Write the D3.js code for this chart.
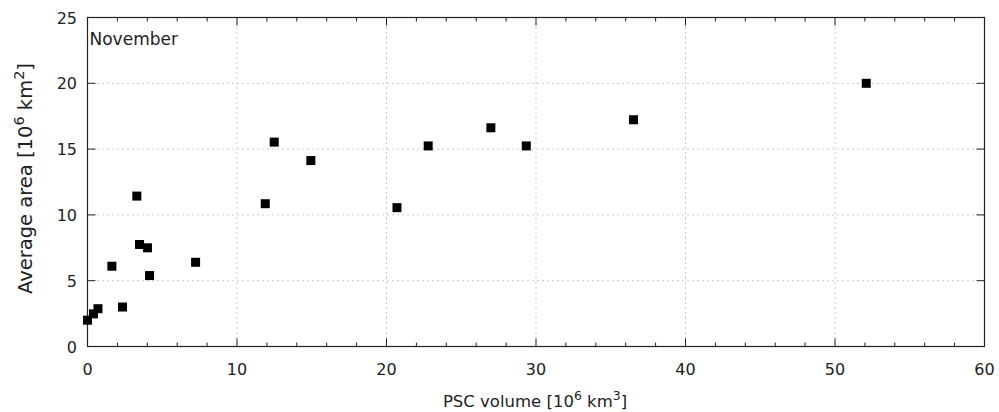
<!DOCTYPE html>
<html>
<head>
<meta charset="utf-8">
<script src="https://cdn.jsdelivr.net/npm/d3@7"></script>
<style>
  body { margin: 0; background: #fff; }
  svg { font-family: "DejaVu Sans", sans-serif; }
  .grid line { stroke: #999; stroke-dasharray: 1,4; stroke-width: 1; }
</style>
</head>
<body>
<div class="container"></div>
<script>
const pscVolume = [0.0, 0.4, 0.7, 1.63, 2.34, 3.3, 3.48, 4.01, 4.15, 7.23,
                   11.89, 12.49, 14.94, 20.7, 22.79, 26.98, 29.35, 36.52, 52.09];
const avgArea   = [2.0, 2.48, 2.87, 6.1, 3.0, 11.43, 7.75, 7.5, 5.39, 6.4,
                   10.85, 15.53, 14.13, 10.55, 15.24, 16.62, 15.24, 17.23, 20.0];
const xTicks = [0, 10, 20, 30, 40, 50, 60];
const xMinorTicks = d3.range(0, 61, 2);
const yTicks = [0, 5, 10, 15, 20, 25];
const monthLabel = "November";

const w = 999;
const h = 412;
const pLeft = 87.5, pRight = 984.5, pTop = 17.5, pBottom = 346.5;

const svg = d3.select(".container").append("svg")
  .attr("width", w)
  .attr("height", h);

const xScale = d3.scaleLinear().domain([0, 60]).range([pLeft, pRight]);
const yScale = d3.scaleLinear().domain([0, 25]).range([pBottom, pTop]);

// grid
const grid = svg.append("g").attr("class", "grid");
grid.selectAll(".gx").data(xTicks.slice(1, -1)).enter().append("line")
  .attr("x1", d => xScale(d)).attr("x2", d => xScale(d))
  .attr("y1", pTop).attr("y2", pBottom);
grid.selectAll(".gy").data(yTicks.slice(1, -1)).enter().append("line")
  .attr("x1", pLeft).attr("x2", pRight)
  .attr("y1", d => yScale(d)).attr("y2", d => yScale(d));

// ticks (inward, on all four sides)
const tickG = svg.append("g").attr("stroke", "#222").attr("stroke-width", 1);
xMinorTicks.forEach(d => {
  const major = d % 10 === 0;
  const len = major ? 8 : 4;
  tickG.append("line").attr("x1", xScale(d)).attr("x2", xScale(d))
    .attr("y1", pBottom).attr("y2", pBottom - len);
  tickG.append("line").attr("x1", xScale(d)).attr("x2", xScale(d))
    .attr("y1", pTop).attr("y2", pTop + len);
});
yTicks.forEach(d => {
  tickG.append("line").attr("x1", pLeft).attr("x2", pLeft + 8)
    .attr("y1", yScale(d)).attr("y2", yScale(d));
  tickG.append("line").attr("x1", pRight).attr("x2", pRight - 8)
    .attr("y1", yScale(d)).attr("y2", yScale(d));
});

// frame
svg.append("rect")
  .attr("x", pLeft).attr("y", pTop)
  .attr("width", pRight - pLeft).attr("height", pBottom - pTop)
  .attr("fill", "none").attr("stroke", "#222").attr("stroke-width", 1.2);

// tick labels
svg.selectAll(".xl").data(xTicks).enter().append("text")
  .attr("x", d => xScale(d)).attr("y", 375)
  .attr("text-anchor", "middle").attr("font-size", 16).attr("fill", "#222")
  .text(d => d);
svg.selectAll(".yl").data(yTicks).enter().append("text")
  .attr("x", 77).attr("y", d => yScale(d) + 6)
  .attr("text-anchor", "end").attr("font-size", 16).attr("fill", "#222")
  .text(d => d);

// axis labels
const xl = svg.append("text")
  .attr("x", 535).attr("y", 407)
  .attr("text-anchor", "middle").attr("font-size", 16.5).attr("fill", "#222");
xl.append("tspan").text("PSC volume [10");
xl.append("tspan").attr("dy", -7).attr("font-size", 12.5).text("6");
xl.append("tspan").attr("dy", 7).text(" km");
xl.append("tspan").attr("dy", -7).attr("font-size", 12.5).text("3");
xl.append("tspan").attr("dy", 7).text("]");

const yl = svg.append("text")
  .attr("transform", "translate(32,178.5) rotate(-90)")
  .attr("text-anchor", "middle").attr("font-size", 19.5).attr("fill", "#222");
yl.append("tspan").text("Average area [10");
yl.append("tspan").attr("dy", -8).attr("font-size", 14.5).text("6");
yl.append("tspan").attr("dy", 8).text(" km");
yl.append("tspan").attr("dy", -8).attr("font-size", 14.5).text("2");
yl.append("tspan").attr("dy", 8).text("]");

svg.append("text")
  .attr("x", 89.5).attr("y", 45)
  .attr("font-size", 17).attr("fill", "#222")
  .text(monthLabel);

// points
const ms = 9;
svg.selectAll(".pt").data(pscVolume).enter().append("rect")
  .attr("x", (d) => xScale(d) - ms / 2)
  .attr("y", (d, i) => yScale(avgArea[i]) - ms / 2)
  .attr("width", ms).attr("height", ms)
  .attr("fill", "#000");
</script>
</body>
</html>
